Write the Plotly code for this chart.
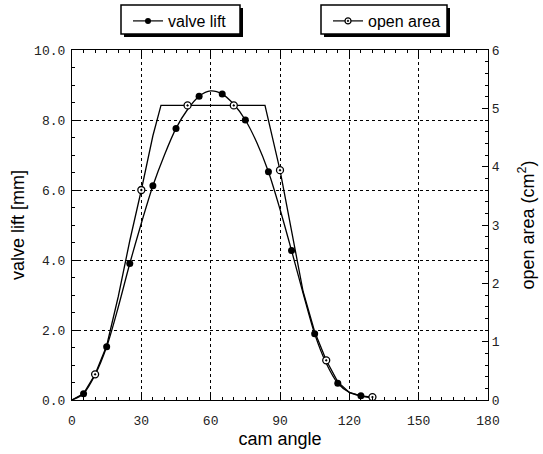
import plotly.graph_objects as go

# cam angle (deg) for the curves
angle_lift = [0, 5, 10, 15, 20, 25, 30, 35, 40, 45, 50, 55, 60, 65, 70, 75, 80, 85, 90,
              95, 100, 105, 110, 115, 120, 125, 130]
valve_lift = [0.0, 0.18, 0.72, 1.52, 2.65, 3.9, 5.05, 6.12, 7.0, 7.76, 8.3, 8.68, 8.83, 8.74,
              8.45, 8.0, 7.35, 6.52, 5.45, 4.27, 3.05, 1.89, 1.05, 0.48, 0.22, 0.12, 0.06]
lift_marker_angle = [5, 15, 25, 35, 45, 55, 65, 75, 85, 95, 105, 115, 125]
lift_marker_value = [0.18, 1.52, 3.9, 6.12, 7.76, 8.68, 8.74, 8.0, 6.52, 4.27, 1.89, 0.48, 0.12]

angle_area = [0, 5, 10, 15, 20, 25, 30, 35, 38.5, 50, 70, 83.5, 90, 95, 100, 105, 110, 115,
              120, 125, 130]
open_area = [0.0, 0.11, 0.44, 0.93, 1.77, 2.73, 3.6, 4.53, 5.05, 5.05, 5.05, 5.05, 3.94, 2.88,
             1.86, 1.17, 0.68, 0.31, 0.13, 0.07, 0.05]
area_marker_angle = [10, 30, 50, 70, 90, 110, 130]
area_marker_value = [0.44, 3.6, 5.05, 5.05, 3.94, 0.68, 0.05]

x_ticks = [0, 30, 60, 90, 120, 150, 180]
y_ticks = [0, 2, 4, 6, 8, 10]
y2_ticks = [0, 1, 2, 3, 4, 5, 6]

W, H = 543, 454
ML, MR, MT, MB = 72, 55, 50, 54
PW, PH = W - ML - MR, H - MT - MB

def px_x(p):
    return (p - ML) / PW

def px_y(p):
    return 1 - (p - MT) / PH

fig = go.Figure()

# valve lift
fig.add_trace(go.Scatter(x=angle_lift, y=valve_lift, mode="lines",
                         line=dict(color="black", width=1.3, shape="spline", smoothing=0.8),
                         showlegend=False, hoverinfo="skip"))
fig.add_trace(go.Scatter(x=lift_marker_angle, y=lift_marker_value, mode="markers",
                         marker=dict(color="black", size=7, symbol="circle"), showlegend=False))
fig.add_trace(go.Scatter(x=[None], y=[None], mode="lines+markers", name="valve lift",
                         line=dict(color="black", width=1.2),
                         marker=dict(color="black", size=6), legend="legend"))

# open area
fig.add_trace(go.Scatter(x=angle_area, y=open_area, mode="lines", yaxis="y2",
                         line=dict(color="black", width=1.3), showlegend=False, hoverinfo="skip"))
fig.add_trace(go.Scatter(x=area_marker_angle, y=area_marker_value, mode="markers", yaxis="y2",
                         marker=dict(color="white", size=7, symbol="circle-dot",
                                     line=dict(color="black", width=1.3)), showlegend=False))
fig.add_trace(go.Scatter(x=[None], y=[None], mode="lines+markers", name="open area", yaxis="y2",
                         line=dict(color="black", width=1.2),
                         marker=dict(color="white", size=6, symbol="circle-dot",
                                     line=dict(color="black", width=1.2)), legend="legend2"))

tickfont = dict(family="Liberation Mono, Courier New, monospace", size=13, color="#222")
titlefont = dict(family="Liberation Sans, Arial, sans-serif", size=18, color="black")

# legend boxes with drop shadow
shapes = []
for (x0, y0, x1, y1) in [(121, 5, 240, 34), (321, 5, 447, 34)]:
    shapes.append(dict(type="rect", xref="paper", yref="paper",
                       x0=px_x(x0 + 3), x1=px_x(x1 + 3), y0=px_y(y1 + 3), y1=px_y(y0 + 3),
                       fillcolor="black", line=dict(width=0), layer="above"))
    shapes.append(dict(type="rect", xref="paper", yref="paper",
                       x0=px_x(x0), x1=px_x(x1), y0=px_y(y1), y1=px_y(y0),
                       fillcolor="white", line=dict(color="black", width=1.5), layer="above"))

legend_common = dict(bgcolor="rgba(0,0,0,0)", borderwidth=0,
                     font=dict(family="Liberation Sans, Arial, sans-serif", size=16, color="black"),
                     yanchor="top", xanchor="left")

fig.update_layout(
    width=W, height=H,
    margin=dict(l=ML, r=MR, t=MT, b=MB, autoexpand=False),
    paper_bgcolor="white", plot_bgcolor="white",
    shapes=shapes,
    legend=dict(x=px_x(128), y=px_y(4), **legend_common),
    legend2=dict(x=px_x(328), y=px_y(4), **legend_common),
    xaxis=dict(range=[0, 180], tickvals=x_ticks, ticks="inside", ticklen=6, tickcolor="black",
               showline=True, linecolor="black", linewidth=1.2, mirror="ticks",
               showgrid=True, gridcolor="black", griddash="dot", gridwidth=1,
               zeroline=False, tickfont=tickfont, ticklabelstandoff=8,
               minor=dict(dtick=5, ticks="inside", ticklen=3, tickcolor="black", showgrid=False),
               title=dict(text="cam angle", font=titlefont, standoff=2)),
    yaxis=dict(range=[0, 10], tickvals=y_ticks, tickformat=".1f", ticks="inside", ticklen=6,
               tickcolor="black", showline=True, linecolor="black", linewidth=1.2,
               showgrid=True, gridcolor="black", griddash="dot", gridwidth=1,
               zeroline=False, tickfont=tickfont, ticklabelstandoff=3,
               minor=dict(dtick=0.5, ticks="inside", ticklen=3, tickcolor="black", showgrid=False),
               title=dict(text="valve lift [mm]", font=titlefont, standoff=4)),
    yaxis2=dict(range=[0, 6], tickvals=y2_ticks, overlaying="y", side="right", ticks="inside",
                ticklen=6, tickcolor="black", showline=True, linecolor="black", linewidth=1.2,
                showgrid=False, zeroline=False, tickfont=tickfont,
                minor=dict(dtick=0.2, ticks="inside", ticklen=3, tickcolor="black"),
                title=dict(text="open area (cm<sup>2</sup>)", font=titlefont, standoff=22)),
)

fig.write_html("out.html")
